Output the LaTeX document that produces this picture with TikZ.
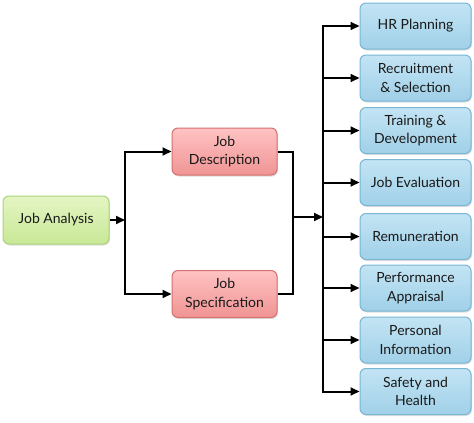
\documentclass[tikz,border=0pt]{standalone}
\usepackage{fontspec}
\setmainfont{Lato}
\usetikzlibrary{arrows.meta,shadows}
\definecolor{gtop}{RGB}{228,245,195}
\definecolor{gbot}{RGB}{200,232,150}
\definecolor{gline}{RGB}{170,212,120}
\definecolor{rtop}{RGB}{255,195,195}
\definecolor{rbot}{RGB}{240,148,148}
\definecolor{rline}{RGB}{212,112,112}
\definecolor{btop}{RGB}{195,228,244}
\definecolor{bbot}{RGB}{160,208,232}
\definecolor{bline}{RGB}{120,182,212}
\tikzset{
  box/.style={rounded corners=6pt, line width=1pt, align=center, inner sep=0pt,
    font=\fontsize{14}{18.5}\selectfont, text=black!90,
    drop shadow={shadow xshift=1pt, shadow yshift=-1.5pt, opacity=0.25}},
  greenbox/.style={box, draw=gline, top color=gtop, bottom color=gbot,
    minimum width=106pt, minimum height=48pt},
  redbox/.style={box, draw=rline, top color=rtop, bottom color=rbot,
    minimum width=105pt, minimum height=47pt},
  bluebox/.style={box, draw=bline, top color=btop, bottom color=bbot,
    minimum width=111pt, minimum height=46pt},
  conn/.style={line width=2pt, black},
  arr/.style={conn, -{Triangle[length=9pt,width=8pt]}},
}
\begin{document}
\begin{tikzpicture}[x=1pt,y=-1pt]
\useasboundingbox (0,0) rectangle (474,423);
\node[greenbox] (ja) at (56,220) {Job Analysis};
\node[redbox] (jd) at (224.5,151.5) {Job\\Description};
\node[redbox] (js) at (224.5,294) {Job\\Specification};
\node[bluebox] (b1) at (415.5,26) {HR Planning};
\node[bluebox] (b2) at (415.5,78) {Recruitment\\\& Selection};
\node[bluebox] (b3) at (415.5,130.5) {Training \&\\Development};
\node[bluebox] (b4) at (415.5,182.5) {Job Evaluation};
\node[bluebox] (b5) at (415.5,236.5) {Remuneration};
\node[bluebox] (b6) at (415.5,288) {Performance\\Appraisal};
\node[bluebox] (b7) at (415.5,340) {Personal\\Information};
\node[bluebox] (b8) at (415.5,391.5) {Safety and\\Health};
\coordinate (c1) at (125,220);
\coordinate (c2) at (293,217);
\coordinate (c3) at (323,217);
\draw[arr] (ja.east) -- (c1);
\draw[arr] (c1) |- (jd.west);
\draw[arr] (c1) |- (js.west);
\draw[conn] (jd.east) -| (c2);
\draw[conn] (js.east) -| (c2);
\draw[arr] (c2) -- (c3);
\foreach \i in {1,...,8} {\draw[arr] (c3) |- (b\i.west);}
\end{tikzpicture}
\end{document}
